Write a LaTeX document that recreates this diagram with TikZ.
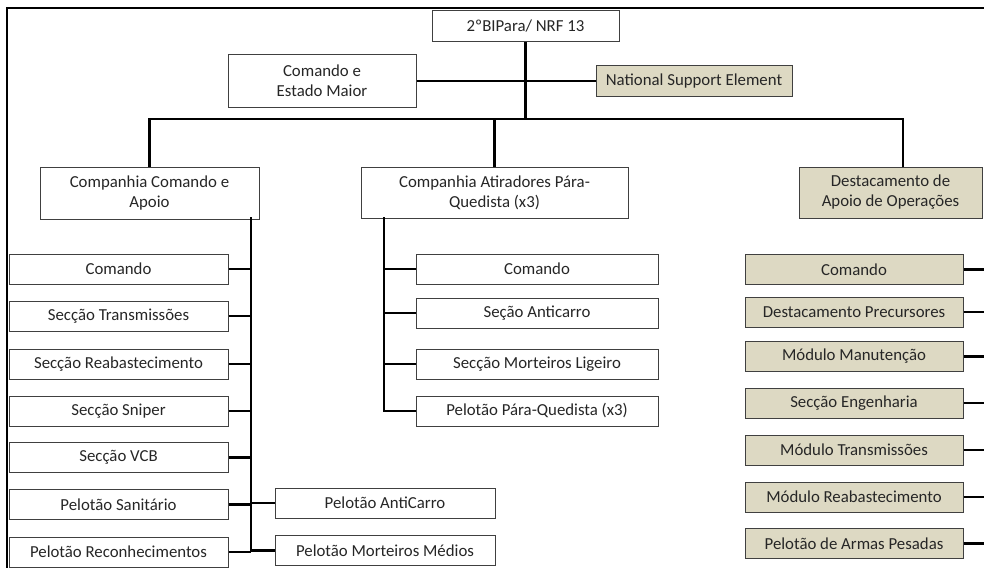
\documentclass[tikz,border=0pt]{standalone}
\usepackage{fontspec}
\setmainfont{Carlito}
\definecolor{edge}{HTML}{404040}
\definecolor{ink}{HTML}{262626}
\definecolor{khaki}{HTML}{DDD9C3}
\tikzset{
  box/.style={draw=edge, line width=0.75pt, fill=white, text=ink, align=center,
    inner sep=0pt, font=\fontsize{12.6}{15}\selectfont},
  tanbox/.style={box, fill=khaki},
  row/.style={box, minimum height=22.5pt},
  link/.style={draw=black, line width=2.2pt},
  frame/.style={draw=black, line width=1.6pt}
}

\begin{document}
\begin{tikzpicture}[x=0.75pt, y=-0.75pt]
\useasboundingbox (0,0) rectangle (984,567);
\clip (0,0) rectangle (984,567);
\draw[frame] (7,600) -- (7,8) -- (1000,8);

\node[box, minimum width=140.25pt, minimum height=23.25pt] (top) at (525.5,26.5) {2ºBIPara/ NRF 13};
\node[box, minimum width=141pt, minimum height=39pt] (cem) at (322,81) {Comando e\\Estado Maior};
\node[tanbox, minimum width=147pt, minimum height=23.25pt] (nse) at (694,81) {National Support Element};
\node[box, minimum width=164.25pt, minimum height=39pt] (cca) at (149.5,193) {Companhia Comando e\\Apoio};
\node[box, minimum width=200.25pt, minimum height=38.25pt] (capq) at (494.5,192.5) {Companhia Atiradores Pára-\\Quedista (x3)};
\node[tanbox, minimum width=137.25pt, minimum height=38.25pt] (dao) at (890.5,192.5) {Destacamento de\\Apoio de Operações};

\coordinate (bus) at (903,119);
\draw[link] (top.south) -- (top.south |- bus);
\draw[link] (cem.east) -- (cem.east -| top.south);
\draw[link] (nse.west) -- (nse.west -| top.south);
\draw[link] (cca.north) |- (bus) -- (bus |- dao.north);
\draw[link] (capq.north) -- (capq.north |- bus);

\foreach \i/\y/\t in {1/269/Comando, 2/316/Secção Transmissões, 3/364/Secção Reabastecimento,
    4/411/Secção Sniper, 5/457.5/Secção VCB, 6/504.5/Pelotão Sanitário, 7/552/Pelotão Reconhecimentos}
  \node[row, minimum width=164.25pt] (cca\i) at (118.5,\y) {\t};
\node[row, minimum width=165pt] (cca8) at (385,503) {Pelotão AntiCarro};
\node[row, minimum width=165pt] (cca9) at (385,550.5) {Pelotão Morteiros Médios};

\coordinate (ccab) at (251,217);
\draw[link] (ccab) -- (ccab |- cca7.east);
\foreach \i in {1,...,7}
  \draw[link] (cca\i.east) -- (cca\i.east -| ccab);
\foreach \i in {8,9}
  \draw[link] (cca\i.west) -- (cca\i.west -| ccab);

\foreach \i/\y/\t in {1/269/Comando, 2/313/Seção Anticarro, 3/364/Secção Morteiros Ligeiro,
    4/411/Pelotão Pára-Quedista (x3)}
  \node[row, minimum width=181.5pt] (capq\i) at (537,\y) {\t};

\coordinate (qb) at (384,217);
\draw[link] (qb) |- (capq4.west);
\foreach \i in {1,2,3}
  \draw[link] (capq\i.west) -- (capq\i.west -| qb);

\foreach \i/\y/\t in {1/269.5/Comando, 2/312/Destacamento Precursores, 3/356.5/Módulo Manutenção,
    4/403/Secção Engenharia, 5/450/Módulo Transmissões, 6/497/Módulo Reabastecimento,
    7/543.5/Pelotão de Armas Pesadas}
  \node[row, tanbox, minimum width=163.5pt] (dao\i) at (854,\y) {\t};

\coordinate (daob) at (995,0);
\foreach \i in {1,...,7}
  \draw[link] (dao\i.east) -- (dao\i.east -| daob);
\end{tikzpicture}
\end{document}
